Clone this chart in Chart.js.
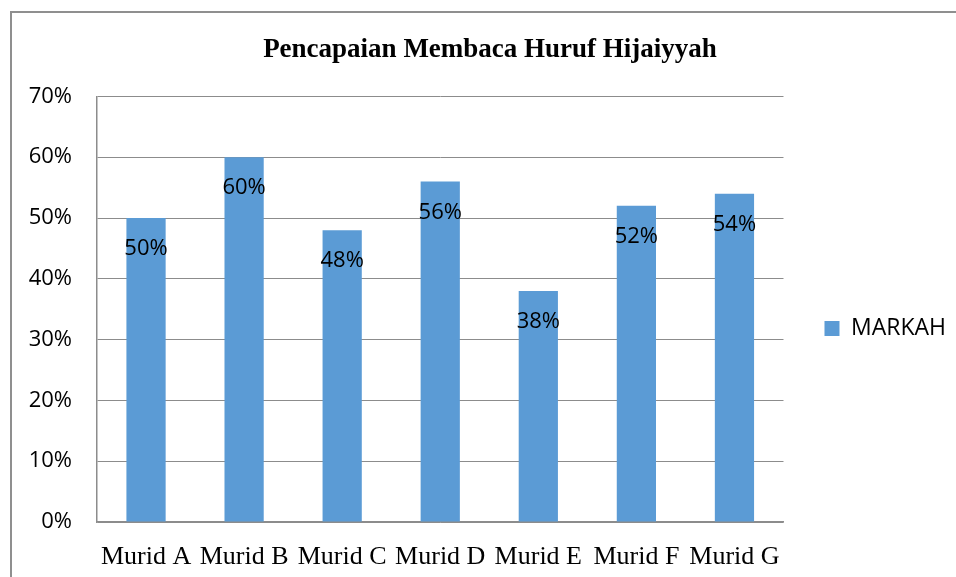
<!DOCTYPE html>
<html>
<head>
<meta charset="utf-8">
<script src="https://cdn.jsdelivr.net/npm/chart.js@4"></script>
<style>
  html, body { margin: 0; padding: 0; background: #fff; }
  .frame { position: absolute; left: 10px; top: 11px; width: 960px; height: 580px;
           border-left: 2px solid #8f8f8f; border-top: 2px solid #8f8f8f; }
  .wrap { position: absolute; left: 0; top: 0; width: 956px; height: 577px; }
</style>
</head>
<body>
<div class="frame"></div>
<div class="wrap"><canvas id="chart"></canvas></div>
<script>
// chart data
const students = ['Murid A', 'Murid B', 'Murid C', 'Murid D', 'Murid E', 'Murid F', 'Murid G'];
const markah = [50, 60, 48, 56, 38, 52, 54];
const seriesName = 'MARKAH';
const chartTitle = 'Pencapaian Membaca Huruf Hijaiyyah';

const barColor = '#5b9bd5';
const gridColor = '#8c8c8c';

// value labels just inside the top of each bar
const valueLabels = {
    id: 'valueLabels',
    afterDatasetsDraw(chart) {
        const ctx = chart.ctx;
        const meta = chart.getDatasetMeta(0);
        ctx.save();
        ctx.font = '22px "Open Sans"';
        ctx.fillStyle = '#000';
        ctx.textAlign = 'center';
        ctx.textBaseline = 'middle';
        meta.data.forEach((bar, i) => {
            ctx.fillText(markah[i] + '%', bar.x, bar.y + 31);
        });
        ctx.restore();
    }
};

new Chart(document.getElementById('chart'), {
    type: 'bar',
    data: {
        labels: students,
        datasets: [{
            label: seriesName,
            data: markah,
            backgroundColor: barColor,
            barPercentage: 0.4,
            categoryPercentage: 1.0
        }]
    },
    options: {
        responsive: true,
        maintainAspectRatio: false,
        animation: false,
        layout: { padding: { left: 24, right: 0, top: 0, bottom: 0 } },
        plugins: {
            title: {
                display: true,
                text: chartTitle,
                color: '#000',
                font: { family: '"Liberation Serif"', size: 27, weight: 'bold' },
                padding: { top: 34, bottom: 30 }
            },
            legend: {
                position: 'right',
                maxWidth: 175,
                // empty legend title only pushes the single item down a bit
                title: { display: true, text: ' ', font: { size: 10 }, padding: { top: 34, bottom: 34 } },
                labels: {
                    boxWidth: 15,
                    boxHeight: 15,
                    padding: 41,
                    color: '#000',
                    font: { family: '"Open Sans"', size: 23 }
                }
            },
            tooltip: { enabled: false }
        },
        scales: {
            x: {
                grid: { display: false, drawTicks: false },
                border: { display: true, color: gridColor, width: 1.5 },
                ticks: {
                    color: '#000',
                    font: { family: '"Liberation Serif"', size: 26 },
                    padding: 20,
                    autoSkip: false,
                    maxRotation: 0,
                    minRotation: 0
                },
                afterFit(scale) { scale.height = 55; }
            },
            y: {
                min: 0,
                max: 70,
                grid: { color: gridColor, lineWidth: 1, drawTicks: false },
                border: { display: true, color: gridColor, width: 1.5 },
                ticks: {
                    stepSize: 10,
                    color: '#000',
                    font: { family: '"Open Sans"', size: 22 },
                    padding: 25,
                    callback: v => v + '%'
                },
                afterFit(scale) { scale.width = 73; }
            }
        }
    },
    plugins: [valueLabels]
});
</script>
</body>
</html>
